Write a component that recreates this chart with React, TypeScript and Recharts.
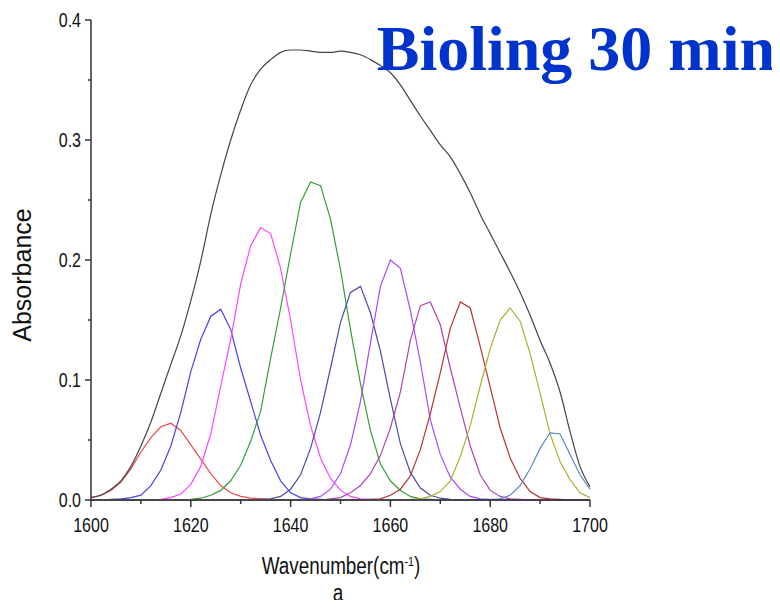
import React from 'react'
import { LineChart, Line, XAxis, YAxis } from 'recharts'

// wavenumber grid, cm-1
const wavenumbers = [
  1600, 1602, 1604, 1606, 1608, 1610, 1612, 1614, 1616, 1618,
  1620, 1622, 1624, 1626, 1628, 1630, 1632, 1634, 1636, 1638,
  1640, 1642, 1644, 1646, 1648, 1650, 1652, 1654, 1656, 1658,
  1660, 1662, 1664, 1666, 1668, 1670, 1672, 1674, 1676, 1678,
  1680, 1682, 1684, 1686, 1688, 1690, 1692, 1694, 1696, 1698, 1700,
]

// measured spectrum
const spectrum = [
  0.002, 0.004, 0.009, 0.016, 0.028, 0.045, 0.065, 0.089, 0.113, 0.137,
  0.166, 0.199, 0.238, 0.271, 0.300, 0.325, 0.346, 0.359, 0.367, 0.373,
  0.375, 0.375, 0.374, 0.373, 0.373, 0.374, 0.373, 0.371, 0.367, 0.362,
  0.356, 0.346, 0.333, 0.320, 0.308, 0.296, 0.286, 0.272, 0.256, 0.238,
  0.222, 0.206, 0.190, 0.173, 0.154, 0.133, 0.114, 0.090, 0.057, 0.028, 0.011,
]

// fitted bands
const band1616 = [
  0.002, 0.004, 0.008, 0.015, 0.026, 0.040, 0.052, 0.061, 0.064, 0.058,
  0.046, 0.034, 0.022, 0.012, 0.006, 0.003, 0.0015, 0.001, 0.0005, 0,
  0, 0, 0, 0, 0, 0, 0, 0, 0, 0,
  0, 0, 0, 0, 0, 0, 0, 0, 0, 0,
  0, 0, 0, 0, 0, 0, 0, 0, 0, 0, 0,
]
const band1626 = [
  0, 0, 0.0005, 0.001, 0.002, 0.004, 0.012, 0.025, 0.045, 0.073,
  0.107, 0.134, 0.153, 0.159, 0.142, 0.110, 0.082, 0.054, 0.033, 0.016,
  0.006, 0.002, 0.001, 0.0005, 0, 0, 0, 0, 0, 0,
  0, 0, 0, 0, 0, 0, 0, 0, 0, 0,
  0, 0, 0, 0, 0, 0, 0, 0, 0, 0, 0,
]
const band1634 = [
  0, 0, 0, 0, 0, 0, 0, 0.0005, 0.002, 0.005,
  0.013, 0.028, 0.055, 0.095, 0.134, 0.180, 0.212, 0.227, 0.222, 0.193,
  0.150, 0.100, 0.062, 0.035, 0.018, 0.008, 0.003, 0.001, 0.0005, 0,
  0, 0, 0, 0, 0, 0, 0, 0, 0, 0,
  0, 0, 0, 0, 0, 0, 0, 0, 0, 0, 0,
]
const band1645 = [
  0, 0, 0, 0, 0, 0, 0, 0, 0, 0,
  0.0005, 0.0015, 0.004, 0.008, 0.016, 0.029, 0.049, 0.074, 0.118, 0.160,
  0.205, 0.248, 0.265, 0.262, 0.234, 0.192, 0.142, 0.097, 0.058, 0.030,
  0.016, 0.008, 0.003, 0.001, 0.0005, 0, 0, 0, 0, 0,
  0, 0, 0, 0, 0, 0, 0, 0, 0, 0, 0,
]
const band1653 = [
  0, 0, 0, 0, 0, 0, 0, 0, 0, 0,
  0, 0, 0, 0, 0, 0, 0, 0.0005, 0.001, 0.003,
  0.009, 0.021, 0.043, 0.073, 0.110, 0.148, 0.173, 0.178, 0.156, 0.124,
  0.084, 0.047, 0.023, 0.010, 0.004, 0.0015, 0.0005, 0, 0, 0,
  0, 0, 0, 0, 0, 0, 0, 0, 0, 0, 0,
]
const band1660 = [
  0, 0, 0, 0, 0, 0, 0, 0, 0, 0,
  0, 0, 0, 0, 0, 0, 0, 0, 0, 0,
  0, 0.0005, 0.001, 0.003, 0.009, 0.022, 0.046, 0.082, 0.131, 0.178,
  0.200, 0.193, 0.158, 0.115, 0.067, 0.038, 0.019, 0.009, 0.003, 0.001,
  0.0005, 0, 0, 0, 0, 0, 0, 0, 0, 0, 0,
]
const band1667 = [
  0, 0, 0, 0, 0, 0, 0, 0, 0, 0,
  0, 0, 0, 0, 0, 0, 0, 0, 0, 0,
  0, 0, 0, 0, 0.001, 0.002, 0.006, 0.012, 0.022, 0.037,
  0.060, 0.090, 0.133, 0.162, 0.165, 0.146, 0.110, 0.077, 0.045, 0.021,
  0.008, 0.003, 0.001, 0.0005, 0, 0, 0, 0, 0, 0, 0,
]
const band1674 = [
  0, 0, 0, 0, 0, 0, 0, 0, 0, 0,
  0, 0, 0, 0, 0, 0, 0, 0, 0, 0,
  0, 0, 0, 0, 0, 0, 0, 0, 0.0005, 0.001,
  0.004, 0.009, 0.020, 0.042, 0.072, 0.106, 0.143, 0.165, 0.160, 0.128,
  0.094, 0.060, 0.035, 0.018, 0.007, 0.002, 0.001, 0.0005, 0, 0, 0,
]
const band1684 = [
  0, 0, 0, 0, 0, 0, 0, 0, 0, 0,
  0, 0, 0, 0, 0, 0, 0, 0, 0, 0,
  0, 0, 0, 0, 0, 0, 0, 0, 0, 0,
  0, 0, 0.0005, 0.001, 0.003, 0.007, 0.016, 0.036, 0.062, 0.095,
  0.126, 0.150, 0.160, 0.149, 0.122, 0.089, 0.055, 0.032, 0.017, 0.006, 0.002,
]
const band1693 = [
  0, 0, 0, 0, 0, 0, 0, 0, 0, 0,
  0, 0, 0, 0, 0, 0, 0, 0, 0, 0,
  0, 0, 0, 0, 0, 0, 0, 0, 0, 0,
  0, 0, 0, 0, 0, 0, 0, 0, 0, 0,
  0.0003, 0.001, 0.004, 0.012, 0.026, 0.043, 0.056, 0.055, 0.038, 0.021, 0.009,
]

const bands = [
  { key: 'b1616', values: band1616, color: '#f04848' },
  { key: 'b1626', values: band1626, color: '#4444ee' },
  { key: 'b1634', values: band1634, color: '#ff44ff' },
  { key: 'b1645', values: band1645, color: '#33a033' },
  { key: 'b1653', values: band1653, color: '#4a4aa8' },
  { key: 'b1660', values: band1660, color: '#a848ff' },
  { key: 'b1667', values: band1667, color: '#b044b0' },
  { key: 'b1674', values: band1674, color: '#b83434' },
  { key: 'b1684', values: band1684, color: '#b0b034' },
  { key: 'b1693', values: band1693, color: '#5a88d0' },
]

const xTicks = [1600, 1610, 1620, 1630, 1640, 1650, 1660, 1670, 1680, 1690, 1700]
const yTicks = [0, 0.05, 0.1, 0.15, 0.2, 0.25, 0.3, 0.35, 0.4]

const data = wavenumbers.map((w, i) => {
  const row: Record<string, number> = { wavenumber: w, spectrum: spectrum[i] }
  bands.forEach((b) => {
    row[b.key] = b.values[i]
  })
  return row
})

const sansFont = '"Liberation Sans", Arial, sans-serif'
const axisColor = '#333'

// the source figure is squeezed sideways, so the labels get a narrow look
const XTick = ({ x, y, payload }: any) => {
  const major = payload.value % 20 === 0
  return (
    <g>
      <line x1={x} y1={y} x2={x} y2={y + (major ? 7 : 4)} stroke={axisColor} strokeWidth={1.5} />
      {major && (
        <text
          transform={`translate(${x},${y + 32}) scale(0.8,1)`}
          textAnchor="middle"
          fontFamily={sansFont}
          fontSize={20}
          fill="#111"
        >
          {payload.value}
        </text>
      )}
    </g>
  )
}

const YTick = ({ x, y, payload }: any) => {
  const major = Math.round(payload.value * 100) % 10 === 0
  return (
    <g>
      <line x1={x} y1={y} x2={x - (major ? 6 : 3)} y2={y} stroke={axisColor} strokeWidth={1.5} />
      {major && (
        <text
          transform={`translate(${x - 10},${y + 7}) scale(0.8,1)`}
          textAnchor="end"
          fontFamily={sansFont}
          fontSize={20}
          fill="#111"
        >
          {payload.value.toFixed(1)}
        </text>
      )}
    </g>
  )
}

export default function App() {
  return (
    <div style={{ position: 'relative', width: 764, height: 592 }}>
      <LineChart width={764} height={592} data={data} margin={{ top: 12, right: 182, bottom: 0, left: 0 }}>
        <XAxis
          dataKey="wavenumber"
          type="number"
          domain={[1600, 1700]}
          ticks={xTicks}
          height={100}
          tickSize={0}
          tickMargin={0}
          tickLine={false}
          tick={<XTick />}
          stroke={axisColor}
          strokeWidth={1.5}
        />
        <YAxis
          type="number"
          domain={[0, 0.4]}
          ticks={yTicks}
          width={83}
          tickSize={0}
          tickMargin={0}
          tickLine={false}
          tick={<YTick />}
          stroke={axisColor}
          strokeWidth={1.5}
        />
        {bands.map((b) => (
          <Line
            key={b.key}
            dataKey={b.key}
            type="linear"
            stroke={b.color}
            strokeWidth={1.2}
            dot={false}
            isAnimationActive={false}
          />
        ))}
        <Line
          dataKey="spectrum"
          type="monotone"
          stroke="#454545"
          strokeWidth={1.2}
          dot={false}
          isAnimationActive={false}
        />
      </LineChart>

      <div
        style={{
          position: 'absolute',
          right: -3,
          top: 9,
          fontFamily: '"Liberation Serif", "Times New Roman", serif',
          fontWeight: 'bold',
          fontSize: 64,
          lineHeight: '64px',
          color: '#0033cc',
          whiteSpace: 'nowrap',
        }}
      >
        Bioling 30 min
      </div>

      <div
        style={{
          position: 'absolute',
          left: 133,
          width: 400,
          top: 547,
          textAlign: 'center',
          fontFamily: sansFont,
          fontSize: 23,
          lineHeight: '23px',
          color: '#111',
          whiteSpace: 'nowrap',
          transform: 'scaleX(0.82)',
        }}
      >
        Wavenumber(cm<sup style={{ fontSize: 13, verticalAlign: 'top', lineHeight: '13px' }}>-1</sup>)
      </div>

      <div
        style={{
          position: 'absolute',
          left: 130,
          width: 400,
          top: 574,
          textAlign: 'center',
          fontFamily: sansFont,
          fontSize: 23,
          lineHeight: '23px',
          color: '#111',
          transform: 'scaleX(0.82)',
        }}
      >
        a
      </div>

      <div
        style={{
          position: 'absolute',
          left: 14 - 100,
          top: 267 - 15,
          width: 200,
          height: 30,
          lineHeight: '30px',
          textAlign: 'center',
          transform: 'rotate(-90deg)',
          fontFamily: sansFont,
          fontSize: 25,
          color: '#111',
          whiteSpace: 'nowrap',
        }}
      >
        Absorbance
      </div>
    </div>
  )
}
